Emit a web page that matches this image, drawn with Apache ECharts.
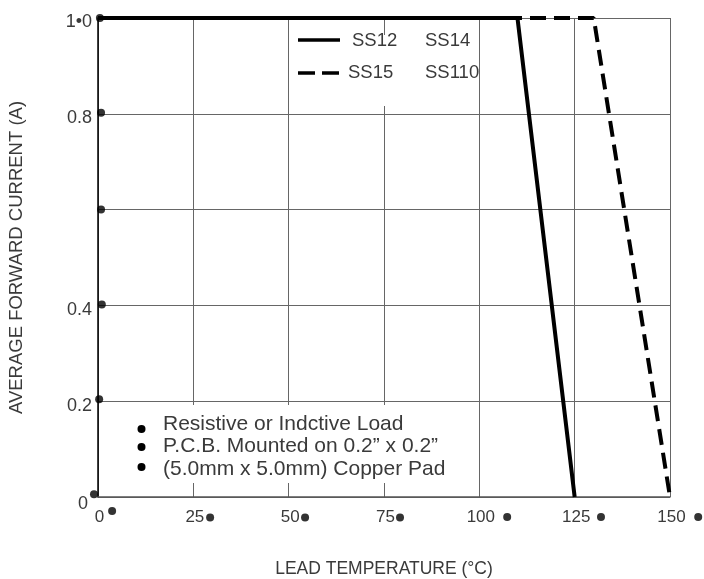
<!DOCTYPE html>
<html><head><meta charset="utf-8">
<script src="https://cdn.jsdelivr.net/npm/echarts@6/dist/echarts.min.js"></script>
<style>html,body{margin:0;padding:0;background:#fff}#c{width:704px;height:579px}</style>
</head><body><div id="c"></div>
<script>
// Data
const ss12Temp = [0, 110, 125];
const ss12Current = [1.0, 1.0, 0];
const ss15Temp = [0, 130, 150];
const ss15Current = [1.0, 1.0, 0];
const xTicks = [0, 25, 50, 75, 100, 125, 150];
const yTickLabels = {'1': '1\u20220', '0.8': '0.8', '0.6': '', '0.4': '0.4', '0.2': '0.2', '0': '0'};
// decorative dots near tick labels (data coordinates)
const yDotX = [0.5, 0.8, 0.8, 1.0, 0.3, -1.05];
const yDotY = [1.0, 0.802, 0.6, 0.402, 0.204, 0.006];
const xDotX = [3.7, 29.4, 54.3, 79.2, 107.3, 131.9, 157.4];
const xDotY = [-0.029, -0.043, -0.043, -0.043, -0.042, -0.042, -0.042];
const legendNames = ['SS12', 'SS14', 'SS15', 'SS110'];
const noteLines = ['Resistive or Indctive Load', 'P.C.B. Mounted on 0.2\u201D x 0.2\u201D', '(5.0mm x 5.0mm) Copper Pad'];

const FONT = 'Liberation Sans, Arial, sans-serif';
const TXT = '#3a3a3a';
const chart = echarts.init(document.getElementById('c'), null, {renderer: 'canvas'});

const dots = yDotX.map((x, i) => [x, yDotY[i]]).concat(xDotX.map((x, i) => [x, xDotY[i]]));

const graphics = [
  {type: 'rect', z: 1, shape: {x: 293, y: 35, width: 180, height: 71}, style: {fill: '#fff'}},
  {type: 'rect', z: 1, shape: {x: 132, y: 405, width: 336, height: 78}, style: {fill: '#fff'}},
  // legend samples
  {type: 'line', z: 5, shape: {x1: 298, y1: 40, x2: 340, y2: 40}, style: {stroke: '#000', lineWidth: 3.5}},
  {type: 'line', z: 5, shape: {x1: 298, y1: 73, x2: 340, y2: 73}, style: {stroke: '#000', lineWidth: 3.5, lineDash: [17, 7]}},
  {type: 'text', z: 5, x: 352, y: 41, style: {text: legendNames[0], font: '18.5px ' + FONT, fill: TXT, textVerticalAlign: 'middle'}},
  {type: 'text', z: 5, x: 425, y: 41, style: {text: legendNames[1], font: '18.5px ' + FONT, fill: TXT, textVerticalAlign: 'middle'}},
  {type: 'text', z: 5, x: 348, y: 73, style: {text: legendNames[2], font: '18.5px ' + FONT, fill: TXT, textVerticalAlign: 'middle'}},
  {type: 'text', z: 5, x: 425, y: 73, style: {text: legendNames[3], font: '18.5px ' + FONT, fill: TXT, textVerticalAlign: 'middle'}}
];
const bulletY = [429, 447, 467];
noteLines.forEach((t, i) => {
  graphics.push({type: 'circle', z: 5, shape: {cx: 141.5, cy: bulletY[i], r: 4}, style: {fill: '#000'}});
  graphics.push({type: 'text', z: 5, x: 163, y: 424 + i * 22.5, style: {text: t, font: '21px ' + FONT, fill: TXT, textVerticalAlign: 'middle'}});
});

chart.setOption({
  animation: false,
  backgroundColor: '#fff',
  grid: {left: 98, top: 18, width: 572, height: 479, show: false, containLabel: false, outerBoundsMode: 'none'},
  xAxis: {
    type: 'value', min: 0, max: 150, interval: 25,
    name: 'LEAD TEMPERATURE (\u00B0C)', nameLocation: 'middle', nameGap: 63, nameMoveOverlap: false,
    nameTextStyle: {fontFamily: FONT, fontSize: 17.5, color: TXT},
    axisLine: {show: true, lineStyle: {color: '#555', width: 1.5}},
    axisTick: {show: false},
    axisLabel: {fontFamily: FONT, fontSize: 17, color: TXT, margin: 12, padding: [0, 0, 0, 3],
      formatter: v => String(v)},
    splitLine: {show: true, lineStyle: {color: '#666', width: 1}}
  },
  yAxis: {
    type: 'value', min: 0, max: 1, interval: 0.2,
    name: 'AVERAGE FORWARD CURRENT (A)', nameLocation: 'middle', nameGap: 72, nameMoveOverlap: false,
    nameTextStyle: {fontFamily: FONT, fontSize: 18.5, color: TXT},
    axisLine: {show: true, lineStyle: {color: '#000', width: 1.5}},
    axisTick: {show: false},
    axisLabel: {fontFamily: FONT, fontSize: 18, color: TXT, margin: 6,
      formatter: v => {
        const key = String(Math.round(v * 10) / 10);
        const t = yTickLabels[key];
        if (!t) return '';
        return key === '0' ? '{z|' + t + '}' : '{n|' + t + '}';
      },
      rich: {
        n: {fontFamily: FONT, fontSize: 18, color: TXT, padding: [9, 0, 0, 0]},
        z: {fontFamily: FONT, fontSize: 18, color: TXT, padding: [14, 4, 0, 0]}
      }
    },
    splitLine: {show: true, lineStyle: {color: '#666', width: 1}}
  },
  graphic: graphics,
  series: [
    {name: 'SS15', type: 'line', symbol: 'none', z: 3,
      data: ss15Temp.map((t, i) => [t, ss15Current[i]]),
      lineStyle: {color: '#000', width: 4, type: [16, 8]}, itemStyle: {color: '#000'}},
    {name: 'SS12', type: 'line', symbol: 'none', z: 4,
      data: ss12Temp.map((t, i) => [t, ss12Current[i]]),
      lineStyle: {color: '#000', width: 4, type: 'solid'}, itemStyle: {color: '#000'}},
    {type: 'scatter', symbol: 'circle', symbolSize: 8, clip: false, z: 6, silent: true,
      data: dots, itemStyle: {color: '#000'}}
  ]
});
</script></body></html>
